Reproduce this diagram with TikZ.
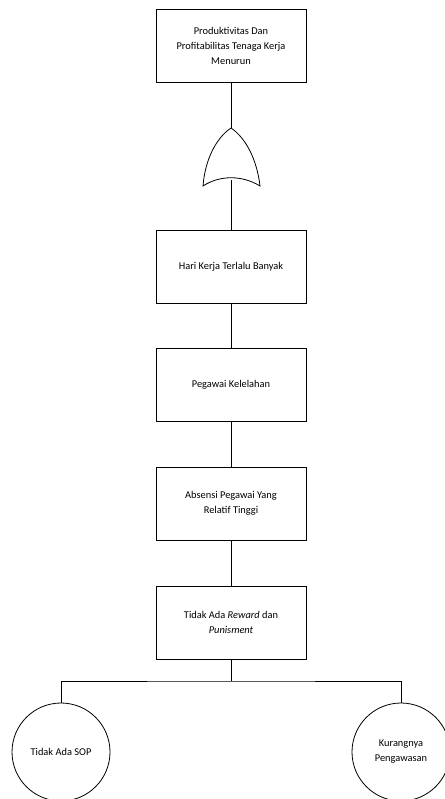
\documentclass[tikz,border=0pt]{standalone}
\usepackage{fontspec}
\setmainfont{Carlito}
\begin{document}
\begin{tikzpicture}[x=1pt,y=-1pt,
  evbox/.style={draw,line width=0.8pt,minimum width=150pt,minimum height=73pt,align=center,font=\fontsize{10.4}{15}\selectfont,inner sep=2pt},
  basic/.style={draw,line width=0.8pt,circle,minimum size=98pt,align=center,font=\fontsize{10.4}{15}\selectfont,inner sep=0pt},
  conn/.style={line width=0.8pt}]
\useasboundingbox (0,0) rectangle (444,799);
\node[evbox] (top) at (231,46) {Produktivitas Dan\\Profitabilitas Tenaga Kerja\\Menurun};
\node[evbox] (hari) at (231,266.5) {Hari Kerja Terlalu Banyak};
\node[evbox] (pegawai) at (231,385) {Pegawai Kelelahan};
\node[evbox] (absensi) at (231,503.5) {Absensi Pegawai Yang\\Relatif Tinggi};
\node[evbox] (reward) at (231,622.5) {Tidak Ada \textit{Reward} dan\\\textit{Punisment}};
\node[basic] (sop) at (61,752) {Tidak Ada SOP};
\node[basic] (awas) at (401,752) {Kurangnya\\Pengawasan};
% OR gate
\coordinate (gapex) at (231,128);
\coordinate (gbot) at (231,180);
\draw[conn] (gapex) .. controls (216,138) and (205,160) .. (203,186)
  .. controls (220,175) and (242,175) .. (260,186)
  .. controls (257,160) and (246,138) .. (gapex);
\draw[conn] (top.south) -- (gapex);
\draw[conn] (gbot) -- (hari.north);
\draw[conn] (hari.south) -- (pegawai.north);
\draw[conn] (pegawai.south) -- (absensi.north);
\draw[conn] (absensi.south) -- (reward.north);
\coordinate (j) at (231,681);
\draw[conn] (reward.south) -- (j);
\draw[conn] (sop.north) |- (j) -| (awas.north);
\end{tikzpicture}
\end{document}
